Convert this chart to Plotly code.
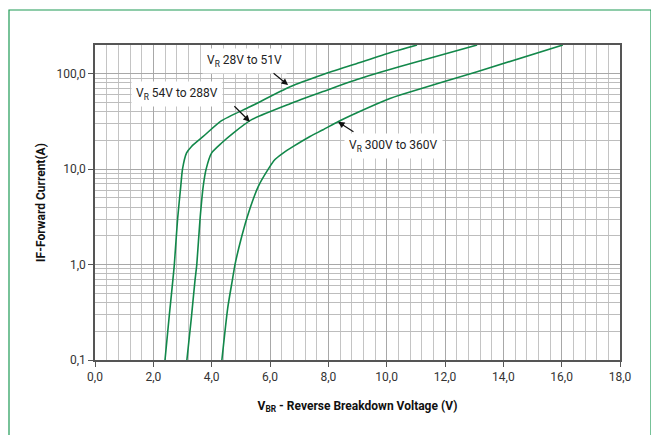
import plotly.graph_objects as go
import math

# ---- data ----
v_28_51 = [2.40, 2.55, 2.67, 2.72, 2.83, 2.94, 3.00, 3.14, 3.31, 3.71, 4.34, 5.31, 6.69, 7.82, 8.98, 10.11, 11.04]
i_28_51 = [0.1, 0.3, 0.69, 1.0, 2.96, 6.6, 10, 14.8, 17.3, 22, 32.2, 45, 73, 98, 128, 166, 200]

v_54_288 = [3.15, 3.30, 3.43, 3.49, 3.60, 3.71, 3.81, 4.00, 4.34, 4.74, 5.37, 6.69, 7.82, 8.98, 10.46, 13.1]
i_54_288 = [0.1, 0.27, 0.69, 1.0, 2.96, 6.6, 10, 14.8, 18.8, 23.9, 33, 48.5, 65, 87, 119, 200]

v_300_360 = [4.35, 4.55, 4.71, 4.80, 5.03, 5.26, 5.60, 5.94, 6.17, 6.46, 6.80, 7.37, 7.82, 8.33, 8.98, 10.11, 10.46, 13.1, 16.04]
i_300_360 = [0.1, 0.35, 0.69, 1.0, 1.97, 3.46, 6.6, 10, 12.6, 14.8, 17.3, 22, 25.9, 31.4, 39, 55, 60, 105, 200]

x_ticks = [0, 2, 4, 6, 8, 10, 12, 14, 16, 18]
x_tick_text = ["0,0", "2,0", "4,0", "6,0", "8,0", "10,0", "12,0", "14,0", "16,0", "18,0"]
y_ticks = [0.1, 1, 10, 100]
y_tick_text = ["0,1", "1,0", "10,0", "100,0"]

GREEN = "#12884a"
FONT = "Roboto, sans-serif"

fig = go.Figure()
for vx, iy, nm in [(v_28_51, i_28_51, "VR 28V to 51V"),
                   (v_54_288, i_54_288, "VR 54V to 288V"),
                   (v_300_360, i_300_360, "VR 300V to 360V")]:
    fig.add_trace(go.Scatter(x=vx, y=iy, mode="lines", name=nm,
                             line=dict(color=GREEN, width=1.6, shape="spline", smoothing=0.6),
                             showlegend=False, hoverinfo="skip"))

# page body has an 8px margin; size the figure so that it fits the window
OFF = 8
W, H = 659 - OFF, 435 - OFF
L, T = 95 - OFF, 45 - OFF
R = W - (620 - OFF)
B = H - (360 - OFF)
pw, ph = W - L - R, H - T - B


def px_to_paper(xp, yp):
    # window pixel -> paper coordinates
    return ((xp - OFF) - L) / pw, (H - B - (yp - OFF)) / ph


fig.update_layout(
    width=W, height=H,
    margin=dict(l=L, r=R, t=T, b=B, autoexpand=False),
    paper_bgcolor="white", plot_bgcolor="white",
    font=dict(family=FONT, size=12, color="#222"),
    xaxis=dict(range=[0, 18], tickvals=x_ticks, ticktext=x_tick_text,
               showgrid=True, gridcolor="#a8a8a8", gridwidth=1,
               minor=dict(tick0=0, dtick=0.4, showgrid=True, gridcolor="#c4c4c4", gridwidth=1),
               ticks="outside", ticklen=5, tickcolor="#555",
               showline=True, linecolor="#555", linewidth=1.5, mirror=True,
               zeroline=False, automargin=False,
               tickfont=dict(family=FONT, size=12, color="#333"),
               title=dict(text="<b>V<sub>BR</sub> - Reverse Breakdown Voltage (V)</b>",
                          font=dict(family=FONT, size=12, color="#111"), standoff=18)),
    yaxis=dict(type="log", range=[-1, math.log10(200)], tickvals=y_ticks, ticktext=y_tick_text,
               showgrid=True, gridcolor="#a8a8a8", gridwidth=1,
               minor=dict(dtick="D1", showgrid=True, gridcolor="#bdbdbd", gridwidth=1),
               ticks="outside", ticklen=5, tickcolor="#555",
               showline=True, linecolor="#555", linewidth=1.5, mirror=True,
               zeroline=False, automargin=False,
               tickfont=dict(family=FONT, size=12, color="#333"),
               title=dict(text="<b>IF-Forward Current(A)</b>",
                          font=dict(family=FONT, size=12, color="#111"), standoff=8)),
)

# outer green frame
fx0, fy1 = px_to_paper(9, 10)
fx1, _ = px_to_paper(651, 10)
fig.add_shape(type="rect", xref="paper", yref="paper",
              x0=fx0, x1=fx1, y0=-0.6, y1=fy1,
              line=dict(color="#1f9a55", width=1.2), fillcolor="rgba(0,0,0,0)", layer="above")

lab_font = dict(family=FONT, size=12, color="#222")
labels = [("V<sub>R</sub> 28V to 51V", 5.11, 2.137),
          ("V<sub>R</sub> 54V to 288V", 2.81, 1.791),
          ("V<sub>R</sub> 300V to 360V", 10.22, 1.2455)]
for txt, xx, yy in labels:
    fig.add_annotation(x=xx, y=yy, text=txt, showarrow=False, font=lab_font,
                       bgcolor="white", borderpad=4)

arrows = [(6.62, math.log10(76), -16, -13),
          (5.31, math.log10(31.4), -17, -17),
          (8.33, math.log10(31.4), 17, 11)]
for xx, yy, ax, ay in arrows:
    fig.add_annotation(x=xx, y=yy, text="", showarrow=True, ax=ax, ay=ay,
                       arrowhead=2, arrowsize=1.1, arrowwidth=1.2, arrowcolor="#111")

fig.write_html("out.html")
